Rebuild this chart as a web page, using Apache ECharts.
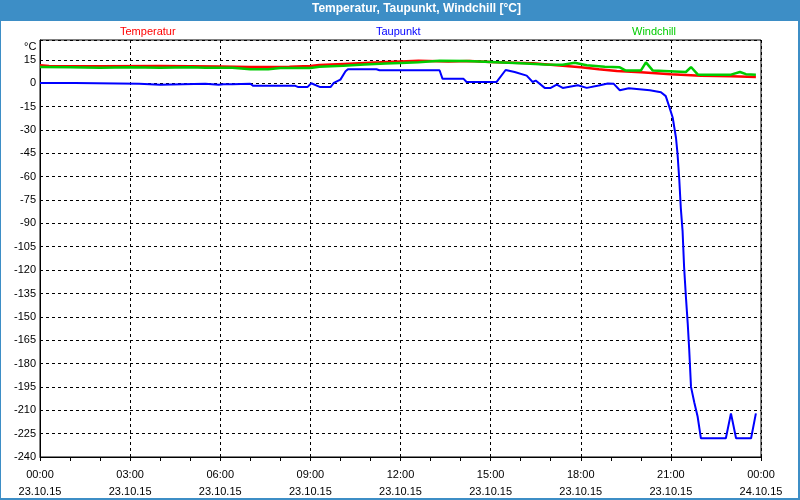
<!DOCTYPE html>
<html>
<head>
<meta charset="utf-8">
<script src="https://cdn.jsdelivr.net/npm/echarts@6/dist/echarts.min.js"></script>
<style>html,body{margin:0;padding:0;background:#fff}#c{width:800px;height:500px}</style>
</head>
<body>
<div id="c"></div>
<script>
// Hours since 23.10.15 00:00 and values in °C
var tempHours = [0, 0.3, 2, 4, 5, 6, 7, 8.3, 9, 9.3, 10.1, 10.8, 11.3, 12, 12.6, 13.6, 14.3, 15, 15.7, 16.4, 17.2, 18, 18.6, 19.2, 20, 21, 22, 23, 23.83];
var tempValues = [11.6, 11.0, 10.9, 11.0, 10.9, 10.8, 10.4, 10.6, 11.0, 11.7, 12.4, 13.0, 13.4, 14.0, 14.4, 14.0, 14.3, 13.6, 13.2, 12.8, 11.5, 10.2, 9.0, 7.9, 7.0, 5.8, 4.8, 4.5, 4.0];

var dewHours = [0, 1.17, 1.2, 3.3, 3.35, 4, 4.05, 5.5, 5.55, 5.95, 6, 6.1, 6.4, 6.45, 7, 7.1, 8.5, 8.6, 8.9, 9.03, 9.33, 9.67, 9.78, 10, 10.17, 10.25, 11.2, 11.3, 13.3, 13.4, 14.1, 14.2, 15.2, 15.5, 15.8, 16.2, 16.4, 16.5, 16.8, 17, 17.2, 17.4, 17.9, 18.2, 18.6, 18.9, 19.1, 19.3, 19.6, 20.3, 20.67, 20.83, 20.94, 21.06, 21.17, 21.22, 21.28, 21.33, 21.39, 21.44, 21.5, 21.56, 21.61, 21.67, 21.78, 21.89, 22, 22.83, 23, 23.17, 23.67, 23.83];
var dewValues = [0.2, 0.2, -0.4, -0.4, -1, -1, -0.4, -0.4, -1, -1, 0, -0.6, -0.6, -0.3, -0.3, -1.7, -1.7, -2.5, -2.5, 0, -2.5, -2.5, 0.2, 2.3, 7.7, 9, 9, 8.3, 8.3, 2.8, 2.8, 0.8, 0.8, 8.5, 7.2, 4.9, 0.8, 1.7, -3, -3, -0.9, -3, -1.3, -3, -1.5, -0.2, -0.4, -4.5, -3.2, -4.5, -5.8, -8.3, -14.7, -22, -35, -45, -62, -80, -95, -118, -137, -154, -171, -195, -205, -214, -228, -228, -212, -228, -228, -212];

var chillHours = [0, 1, 2, 3, 4, 5, 5.5, 6.4, 7, 7.6, 8, 9, 9.3, 10.1, 10.8, 11.5, 12, 12.6, 13.3, 14.2, 15, 16, 16.8, 17.4, 17.8, 18.2, 18.8, 19.3, 19.5, 20, 20.17, 20.4, 21.5, 21.67, 21.9, 23, 23.3, 23.5, 23.83];
var chillValues = [10.4, 10.2, 10.0, 10.2, 10.0, 10.2, 9.9, 10.0, 9.0, 9.0, 9.8, 9.8, 10.6, 11.2, 12.0, 12.6, 13.0, 13.5, 14.5, 14.2, 13.6, 12.8, 12.0, 11.9, 13.2, 11.5, 10.5, 10.2, 8.1, 8.1, 13.4, 8.1, 7.2, 10.4, 5.5, 5.5, 7.2, 5.8, 5.5];

var timeLabels = ['00:00', '03:00', '06:00', '09:00', '12:00', '15:00', '18:00', '21:00', '00:00'];
var dateLabels = ['23.10.15', '23.10.15', '23.10.15', '23.10.15', '23.10.15', '23.10.15', '23.10.15', '23.10.15', '24.10.15'];

var seriesNames = ['Temperatur', 'Taupunkt', 'Windchill'];
var seriesColors = ['#ff0000', '#0000ff', '#00cc00'];

function pairs(xs, ys) { return xs.map(function (x, i) { return [x, ys[i]]; }); }

var FONT = 'Liberation Sans';
var chart = echarts.init(document.getElementById('c'), null, { renderer: 'canvas' });

var legendLefts = [110, 366, 622];
var legends = seriesNames.map(function (n, i) {
  return {
    top: 21, left: legendLefts[i], itemWidth: 0, itemHeight: 0, itemGap: 0,
    selectedMode: false,
    textStyle: { fontFamily: FONT, fontSize: 11, color: seriesColors[i] },
    data: [{ name: n, icon: 'none', textStyle: { color: seriesColors[i] } }]
  };
});

chart.setOption({
  animation: false,
  backgroundColor: '#ffffff',
  title: {
    text: 'Temperatur, Taupunkt, Windchill [°C]',
    left: 312, top: 3, padding: 0,
    textStyle: { color: '#ffffff', fontFamily: FONT, fontSize: 12, fontWeight: 'bold' }
  },
  graphic: [
    { type: 'rect', z: -1, shape: { x: 0, y: 0, width: 800, height: 21 }, style: { fill: '#3d8ec6' } },
    { type: 'rect', z: -1, shape: { x: 0, y: 0, width: 1, height: 500 }, style: { fill: '#3d8ec6' } },
    { type: 'rect', z: -1, shape: { x: 798, y: 0, width: 2, height: 500 }, style: { fill: '#3d8ec6' } },
    { type: 'rect', z: -1, shape: { x: 0, y: 498, width: 800, height: 2 }, style: { fill: '#3d8ec6' } },
    { type: 'text', left: 24, top: 41, style: { text: '°C', fill: '#000', font: '11px "Liberation Sans"' } }
  ],
  legend: legends,
  grid: { left: 40, right: 39, top: 40, bottom: 40, show: true, borderColor: '#000', borderWidth: 1, backgroundColor: 'transparent' },
  xAxis: {
    type: 'value', min: 0, max: 24, interval: 3,
    axisLine: { onZero: false, lineStyle: { color: '#000', width: 1 } },
    axisTick: { show: true, length: 4, lineStyle: { color: '#000' } },
    minorTick: { show: true, splitNumber: 3, length: 4, lineStyle: { color: '#000' } },
    splitLine: { show: true, lineStyle: { color: '#000', type: [3, 3], width: 1 } },
    axisLabel: {
      margin: 9, color: '#000', fontFamily: FONT, fontSize: 11, lineHeight: 17,
      formatter: function (v) { var i = Math.round(v / 3); return timeLabels[i] + '\n' + dateLabels[i]; }
    }
  },
  yAxis: {
    type: 'value', min: -240, max: 27.75, interval: 15,
    axisLine: { show: true, onZero: false, lineStyle: { color: '#000', width: 1 } },
    axisTick: { show: false },
    splitLine: { show: true, lineStyle: { color: '#000', type: [3, 3], width: 1 } },
    axisLabel: {
      margin: 4, color: '#000', fontFamily: FONT, fontSize: 11, showMaxLabel: false,
      formatter: function (v) { return (v % 15 === 0) ? String(v) : ''; }
    }
  },
  series: [
    { name: seriesNames[0], type: 'line', showSymbol: false, data: pairs(tempHours, tempValues), color: seriesColors[0], lineStyle: { width: 2.5 }, z: 2 },
    { name: seriesNames[2], type: 'line', showSymbol: false, data: pairs(chillHours, chillValues), color: seriesColors[2], lineStyle: { width: 2.5 }, z: 3 },
    { name: seriesNames[1], type: 'line', showSymbol: false, data: pairs(dewHours, dewValues), color: seriesColors[1], lineStyle: { width: 2 }, z: 4 }
  ]
});
</script>
</body>
</html>
